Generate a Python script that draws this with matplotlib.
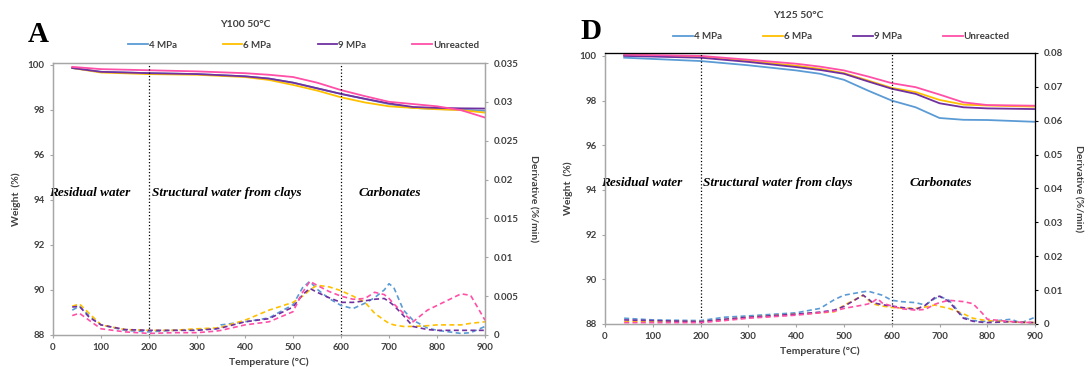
import numpy as np
import matplotlib
matplotlib.use("Agg")
import matplotlib.pyplot as plt

plt.rcParams['font.family'] = ['Lato', 'DejaVu Sans']

labels = ["4 MPa", "6 MPa", "9 MPa", "Unreacted"]
colors = ["#5b9bd5", "#ffc000", "#7030a0", "#ff4fa7"]

# ---- Y100 50°C : weight loss (%) ----
t_w_a = [40, 100, 200, 300, 400, 450, 500, 550, 600, 650, 700, 750, 800, 850, 900]
w_a = {
    "4 MPa":     [99.85, 99.68, 99.62, 99.58, 99.48, 99.38, 99.2, 98.95, 98.7, 98.48, 98.25, 98.08, 98.03, 98.0, 97.95],
    "6 MPa":     [99.85, 99.65, 99.58, 99.55, 99.45, 99.32, 99.1, 98.85, 98.55, 98.32, 98.15, 98.08, 98.02, 97.98, 97.87],
    "9 MPa":     [99.85, 99.68, 99.62, 99.58, 99.48, 99.38, 99.2, 98.95, 98.7, 98.48, 98.28, 98.12, 98.08, 98.06, 98.05],
    "Unreacted": [99.9, 99.8, 99.75, 99.7, 99.62, 99.55, 99.45, 99.2, 98.87, 98.6, 98.35, 98.25, 98.15, 97.98, 97.65],
}

# ---- Y100 50°C : derivative (%/min) ----
t_d_a = [40, 55, 75, 100, 150, 200, 250, 300, 340, 350, 400, 450, 500, 520, 535,
         550, 575, 600, 625, 650, 670, 690, 700, 710, 730, 750, 780, 800, 850, 870, 900]
d_a = {
    "4 MPa":     [0.0032, 0.0037, 0.0025, 0.0013, 0.0006, 0.0004, 0.0006, 0.0007, 0.0008, 0.0013,
                  0.0017, 0.0022, 0.0039, 0.0061, 0.0069, 0.0059, 0.0047, 0.0038, 0.0034, 0.0041,
                  0.0048, 0.0058, 0.0066, 0.0061, 0.0032, 0.0019, 0.0009, 0.0006, 0.0002, 0.0003, 0.0011],
    "6 MPa":     [0.0037, 0.004, 0.0028, 0.0013, 0.0007, 0.0006, 0.0006, 0.0008, 0.0009, 0.001,
                  0.0019, 0.0032, 0.0042, 0.005, 0.0058, 0.0064, 0.0062, 0.0057, 0.005, 0.0042,
                  0.0028, 0.0019, 0.0015, 0.0013, 0.0011, 0.0011, 0.0012, 0.0013, 0.0013, 0.0015, 0.0017],
    "9 MPa":     [0.0036, 0.0037, 0.0023, 0.0013, 0.0007, 0.0006, 0.0006, 0.0006, 0.0008, 0.0009,
                  0.0017, 0.0021, 0.0036, 0.0052, 0.006, 0.0055, 0.0048, 0.0042, 0.0042, 0.0044,
                  0.0046, 0.0047, 0.0043, 0.0038, 0.0025, 0.0011, 0.0007, 0.0006, 0.0006, 0.0006, 0.0006],
    "Unreacted": [0.0025, 0.0028, 0.0019, 0.0008, 0.0004, 0.0002, 0.0003, 0.0003, 0.0005, 0.0006,
                  0.0013, 0.0017, 0.003, 0.0055, 0.0069, 0.0064, 0.0056, 0.005, 0.0046, 0.0047,
                  0.0055, 0.0052, 0.0047, 0.004, 0.0028, 0.0017, 0.0032, 0.0038, 0.0053, 0.0051, 0.0019],
}

# ---- Y125 50°C : weight loss (%) ----
t_w_d = [40, 200, 300, 400, 450, 500, 550, 600, 650, 700, 750, 800, 900]
w_d = {
    "4 MPa":     [99.92, 99.77, 99.58, 99.35, 99.2, 98.93, 98.45, 98.0, 97.7, 97.22, 97.14, 97.13, 97.05],
    "6 MPa":     [100.03, 99.95, 99.77, 99.56, 99.42, 99.23, 98.9, 98.57, 98.38, 98.03, 97.82, 97.78, 97.73],
    "9 MPa":     [100.0, 99.92, 99.73, 99.5, 99.37, 99.2, 98.86, 98.53, 98.3, 97.88, 97.7, 97.65, 97.62],
    "Unreacted": [100.06, 100.0, 99.83, 99.65, 99.52, 99.35, 99.08, 98.78, 98.6, 98.27, 97.92, 97.8, 97.77],
}

# ---- Y125 50°C : derivative (%/min) ----
t_d_d = [40, 100, 200, 250, 300, 400, 450, 480, 500, 540, 550, 560, 570, 580, 600, 620,
         650, 670, 690, 700, 720, 750, 770, 790, 800, 850, 870, 900]
d_d = {
    "4 MPa":     [0.0017, 0.0012, 0.001, 0.002, 0.0024, 0.0033, 0.0046, 0.0072, 0.0085, 0.0095,
                  0.0097, 0.0093, 0.0089, 0.0085, 0.007, 0.0066, 0.0063, 0.0056, 0.0075, 0.0082,
                  0.007, 0.002, 0.001, 0.0008, 0.0007, 0.0014, 0.0003, 0.002],
    "6 MPa":     [0.0007, 0.0007, 0.0007, 0.0013, 0.002, 0.0029, 0.0033, 0.0036, 0.0055, 0.0085,
                  0.0072, 0.006, 0.0056, 0.0053, 0.0049, 0.0047, 0.0046, 0.005, 0.0056, 0.0052,
                  0.0046, 0.003, 0.0017, 0.0012, 0.001, 0.0006, 0.0005, 0.0004],
    "9 MPa":     [0.0012, 0.001, 0.0007, 0.0014, 0.002, 0.0029, 0.0035, 0.0041, 0.0052, 0.0085,
                  0.0075, 0.0063, 0.006, 0.0057, 0.0053, 0.0049, 0.0043, 0.0055, 0.0078, 0.0082,
                  0.0066, 0.0017, 0.0008, 0.0005, 0.0004, 0.0007, 0.0005, 0.0004],
    "Unreacted": [0.0004, 0.0004, 0.0004, 0.001, 0.0017, 0.0026, 0.0033, 0.0038, 0.0046, 0.0056,
                  0.0059, 0.0065, 0.0075, 0.0062, 0.0053, 0.0045, 0.0041, 0.0043, 0.0058, 0.0063,
                  0.007, 0.0066, 0.006, 0.0031, 0.0014, 0.0007, 0.0005, 0.0004],
}

regions = ["Residual water", "Structural water from clays", "Carbonates"]
region_x = [77, 362, 702]
boundaries = [200, 600]

GRAY = "#a6a6a6"
TXT = "#404040"


def draw_panel(ax, t_w, w, t_d, d, title, letter, dmax, dstep, top_ylim, spine_dark,
               leg_box, title_x, letter_y):
    ax2 = ax.twinx()
    for lab, col in zip(labels, colors):
        ax.plot(t_w, w[lab], color=col, lw=1.3, label=lab)
        ax2.plot(t_d, d[lab], color=col, lw=1.2, ls=(0, (3, 2)))
    for b in boundaries:
        ax.axvline(b, color="black", ls=":", lw=0.9)

    ax.set_xlim(0, 900)
    ax.set_ylim(88, top_ylim)
    ax.set_xticks(np.arange(0, 901, 100))
    ax.set_yticks(np.arange(88, 100.1, 2))
    ax2.set_ylim(0, dmax)
    ax2.set_yticks(np.arange(0, dmax + 1e-9, dstep))
    ax2.set_yticklabels(["0"] + ["%g" % v for v in np.arange(dstep, dmax + 1e-9, dstep)])

    for a in (ax, ax2):
        a.tick_params(labelsize=7, length=2.5, width=0.8, color=GRAY, labelcolor=TXT)
        for s in a.spines.values():
            s.set_color(GRAY)
            s.set_linewidth(0.9)
    if spine_dark:
        ax2.spines["right"].set_color("black")
        ax2.spines["top"].set_color("black")
        ax2.tick_params(color="black")
    for lbl in ax.get_xticklabels() + ax.get_yticklabels() + ax2.get_yticklabels():
        lbl.set_fontweight("bold")

    ax.set_xlabel("Temperature (°C)", fontsize=7.5, fontweight="bold", color=TXT, labelpad=4)
    ax.set_ylabel("Weight  (%)", fontsize=7.5, fontweight="bold", color=TXT, labelpad=5)
    ax2.set_ylabel("Derivative (%/min)", fontsize=7.5, fontweight="bold", color=TXT,
                   rotation=270, labelpad=14)

    for name, x in zip(regions, region_x):
        ax.text(x, 94.3, name, ha="center", va="center", fontsize=9.5,
                family="Liberation Serif", fontweight="bold", style="italic")

    ax.text(title_x, 1.14, title, transform=ax.transAxes, ha="center", va="center",
            fontsize=7.5, fontweight="bold", color=TXT)
    ax.text(-0.058, letter_y, letter, transform=ax.transAxes, ha="left", va="center",
            fontsize=21, fontweight="bold", family="Liberation Serif")
    leg = ax.legend(loc="lower left", bbox_to_anchor=leg_box, ncol=4, mode="expand",
                    frameon=False, fontsize=7, handlelength=2.0, handletextpad=0.1,
                    borderaxespad=0)
    for txt in leg.get_texts():
        txt.set_fontweight("bold")
        txt.set_color(TXT)
    return ax2


fig = plt.figure(figsize=(10.89, 3.67), dpi=100)
ax_a = fig.add_axes([0.0487, 0.0872, 0.3967, 0.741])
ax_d = fig.add_axes([0.5556, 0.1172, 0.3949, 0.7384])

draw_panel(ax_a, t_w_a, w_a, t_d_a, d_a, "Y100 50°C", "A", 0.035, 0.005, 100.07, False,
           (0.165, 1.035, 0.83, 0.06), 0.444, 1.105)
draw_panel(ax_d, t_w_d, w_d, t_d_d, d_d, "Y125 50°C", "D", 0.08, 0.01, 100.13, True,
           (0.15, 1.03, 0.8, 0.06), 0.449, 1.08)

fig.savefig("out.png", dpi=100)
